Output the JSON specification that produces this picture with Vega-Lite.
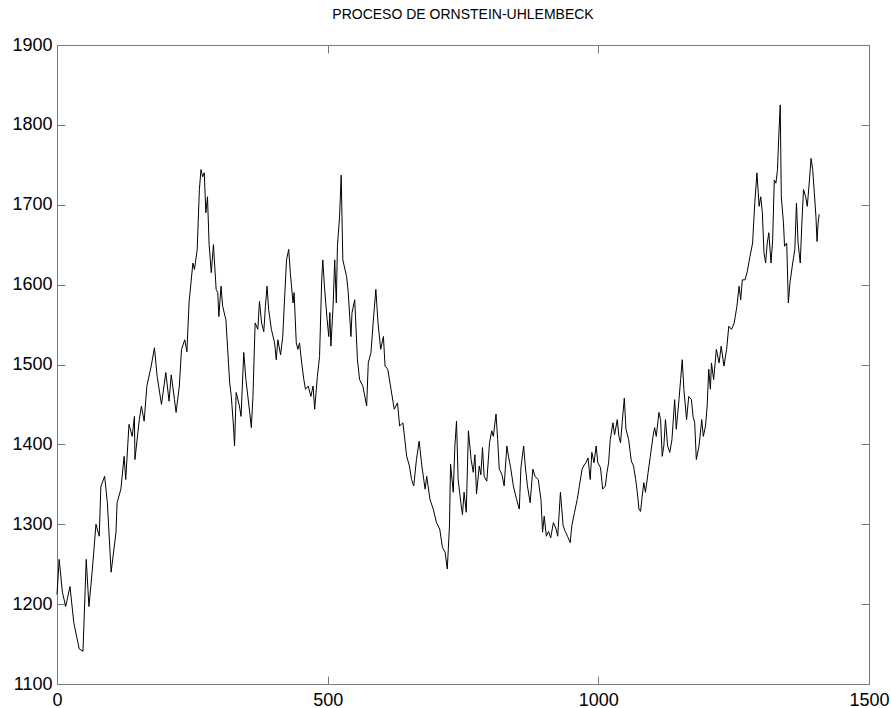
{
  "$schema": "https://vega.github.io/schema/vega-lite/v6.json",
  "autosize": "none",
  "width": 812,
  "height": 639,
  "padding": {"left": 57, "top": 45, "right": 22, "bottom": 24},
  "background": "white",
  "title": {"text": "PROCESO DE ORNSTEIN-UHLEMBECK", "font": "Liberation Sans", "fontSize": 14, "fontWeight": "normal", "color": "black", "offset": 14},
  "config": {"view": {"stroke": null}, "axis": {"grid": false, "labelFont": "Liberation Sans", "labelFontSize": 18, "labelColor": "black", "domainColor": "#7a7a7a", "tickColor": "#7a7a7a", "domainWidth": 1, "tickWidth": 1, "title": null, "format": "d"}},
  "data": {"values": [
    {"t":0,"v":1212},{"t":4,"v":1256},{"t":10,"v":1215},{"t":16,"v":1197},{"t":24,"v":1222},{"t":31,"v":1177},{"t":41,"v":1144},{"t":48,"v":1141},{"t":54,"v":1256},{"t":59,"v":1197},{"t":65,"v":1241},{"t":72,"v":1300},{"t":78,"v":1285},{"t":81,"v":1347},{"t":88,"v":1360},{"t":93,"v":1327},{"t":100,"v":1240},{"t":109,"v":1290},{"t":111,"v":1327},{"t":118,"v":1344},{"t":124,"v":1385},{"t":127,"v":1356},{"t":133,"v":1425},{"t":139,"v":1410},{"t":143,"v":1435},{"t":144,"v":1381},{"t":152,"v":1431},{"t":156,"v":1448},{"t":161,"v":1429},{"t":166,"v":1473},{"t":174,"v":1498},{"t":180,"v":1521},{"t":185,"v":1485},{"t":193,"v":1450},{"t":201,"v":1490},{"t":207,"v":1454},{"t":211,"v":1487},{"t":217,"v":1456},{"t":220,"v":1440},{"t":226,"v":1473},{"t":230,"v":1519},{"t":236,"v":1531},{"t":240,"v":1516},{"t":244,"v":1578},{"t":251,"v":1627},{"t":254,"v":1619},{"t":259,"v":1644},{"t":263,"v":1719},{"t":266,"v":1744},{"t":269,"v":1735},{"t":272,"v":1740},{"t":275,"v":1690},{"t":278,"v":1710},{"t":281,"v":1650},{"t":285,"v":1615},{"t":289,"v":1650},{"t":294,"v":1594},{"t":297,"v":1590},{"t":299,"v":1560},{"t":303,"v":1598},{"t":306,"v":1573},{"t":312,"v":1556},{"t":319,"v":1477},{"t":322,"v":1460},{"t":326,"v":1423},{"t":328,"v":1398},{"t":331,"v":1465},{"t":337,"v":1448},{"t":340,"v":1435},{"t":345,"v":1515},{"t":349,"v":1481},{"t":356,"v":1440},{"t":359,"v":1421},{"t":362,"v":1460},{"t":366,"v":1552},{"t":371,"v":1544},{"t":374,"v":1579},{"t":378,"v":1552},{"t":382,"v":1541},{"t":385,"v":1573},{"t":388,"v":1598},{"t":391,"v":1569},{"t":396,"v":1544},{"t":402,"v":1527},{"t":405,"v":1506},{"t":408,"v":1531},{"t":413,"v":1512},{"t":417,"v":1535},{"t":420,"v":1577},{"t":424,"v":1631},{"t":428,"v":1644},{"t":431,"v":1615},{"t":436,"v":1577},{"t":438,"v":1590},{"t":442,"v":1527},{"t":445,"v":1519},{"t":448,"v":1527},{"t":452,"v":1502},{"t":456,"v":1481},{"t":459,"v":1469},{"t":464,"v":1473},{"t":469,"v":1460},{"t":473,"v":1473},{"t":476,"v":1444},{"t":481,"v":1485},{"t":485,"v":1510},{"t":489,"v":1606},{"t":491,"v":1631},{"t":494,"v":1598},{"t":499,"v":1556},{"t":502,"v":1535},{"t":504,"v":1565},{"t":506,"v":1523},{"t":510,"v":1573},{"t":513,"v":1631},{"t":516,"v":1577},{"t":518,"v":1648},{"t":522,"v":1685},{"t":525,"v":1737},{"t":528,"v":1631},{"t":535,"v":1610},{"t":538,"v":1590},{"t":543,"v":1535},{"t":545,"v":1565},{"t":550,"v":1581},{"t":555,"v":1506},{"t":559,"v":1481},{"t":565,"v":1473},{"t":572,"v":1448},{"t":575,"v":1502},{"t":580,"v":1515},{"t":584,"v":1552},{"t":589,"v":1594},{"t":593,"v":1552},{"t":598,"v":1519},{"t":603,"v":1535},{"t":606,"v":1498},{"t":611,"v":1494},{"t":617,"v":1469},{"t":623,"v":1444},{"t":629,"v":1452},{"t":633,"v":1423},{"t":639,"v":1427},{"t":646,"v":1385},{"t":651,"v":1373},{"t":655,"v":1356},{"t":659,"v":1348},{"t":664,"v":1381},{"t":669,"v":1404},{"t":674,"v":1373},{"t":680,"v":1344},{"t":683,"v":1360},{"t":689,"v":1331},{"t":695,"v":1319},{"t":701,"v":1302},{"t":707,"v":1294},{"t":712,"v":1271},{"t":717,"v":1265},{"t":721,"v":1244},{"t":725,"v":1298},{"t":727,"v":1375},{"t":732,"v":1340},{"t":735,"v":1398},{"t":738,"v":1429},{"t":741,"v":1356},{"t":746,"v":1327},{"t":749,"v":1312},{"t":752,"v":1340},{"t":756,"v":1315},{"t":760,"v":1417},{"t":765,"v":1381},{"t":769,"v":1365},{"t":772,"v":1387},{"t":775,"v":1338},{"t":780,"v":1373},{"t":783,"v":1362},{"t":786,"v":1396},{"t":789,"v":1360},{"t":794,"v":1354},{"t":799,"v":1402},{"t":803,"v":1417},{"t":806,"v":1410},{"t":811,"v":1438},{"t":814,"v":1406},{"t":817,"v":1369},{"t":822,"v":1362},{"t":826,"v":1348},{"t":831,"v":1398},{"t":834,"v":1385},{"t":838,"v":1371},{"t":843,"v":1348},{"t":849,"v":1331},{"t":854,"v":1319},{"t":857,"v":1371},{"t":862,"v":1398},{"t":865,"v":1373},{"t":869,"v":1348},{"t":874,"v":1327},{"t":879,"v":1369},{"t":883,"v":1360},{"t":889,"v":1356},{"t":894,"v":1331},{"t":897,"v":1290},{"t":900,"v":1310},{"t":904,"v":1285},{"t":908,"v":1291},{"t":912,"v":1283},{"t":917,"v":1302},{"t":922,"v":1294},{"t":925,"v":1285},{"t":930,"v":1340},{"t":935,"v":1298},{"t":939,"v":1291},{"t":943,"v":1285},{"t":948,"v":1277},{"t":951,"v":1298},{"t":956,"v":1315},{"t":961,"v":1331},{"t":965,"v":1348},{"t":970,"v":1369},{"t":973,"v":1373},{"t":977,"v":1377},{"t":981,"v":1383},{"t":985,"v":1356},{"t":988,"v":1390},{"t":992,"v":1377},{"t":996,"v":1398},{"t":999,"v":1377},{"t":1004,"v":1371},{"t":1008,"v":1344},{"t":1013,"v":1348},{"t":1016,"v":1365},{"t":1019,"v":1377},{"t":1022,"v":1406},{"t":1027,"v":1427},{"t":1030,"v":1412},{"t":1035,"v":1431},{"t":1038,"v":1410},{"t":1041,"v":1402},{"t":1044,"v":1427},{"t":1048,"v":1458},{"t":1051,"v":1419},{"t":1056,"v":1406},{"t":1061,"v":1379},{"t":1065,"v":1373},{"t":1069,"v":1356},{"t":1072,"v":1340},{"t":1075,"v":1319},{"t":1078,"v":1316},{"t":1081,"v":1335},{"t":1084,"v":1352},{"t":1087,"v":1340},{"t":1092,"v":1365},{"t":1096,"v":1385},{"t":1101,"v":1410},{"t":1104,"v":1421},{"t":1107,"v":1410},{"t":1112,"v":1440},{"t":1115,"v":1431},{"t":1118,"v":1385},{"t":1121,"v":1398},{"t":1124,"v":1431},{"t":1128,"v":1398},{"t":1132,"v":1390},{"t":1136,"v":1406},{"t":1141,"v":1456},{"t":1144,"v":1419},{"t":1149,"v":1456},{"t":1152,"v":1481},{"t":1155,"v":1506},{"t":1158,"v":1469},{"t":1163,"v":1431},{"t":1167,"v":1460},{"t":1172,"v":1456},{"t":1175,"v":1435},{"t":1178,"v":1427},{"t":1181,"v":1381},{"t":1186,"v":1398},{"t":1191,"v":1431},{"t":1194,"v":1410},{"t":1198,"v":1423},{"t":1201,"v":1448},{"t":1204,"v":1494},{"t":1207,"v":1469},{"t":1209,"v":1502},{"t":1213,"v":1481},{"t":1218,"v":1519},{"t":1223,"v":1502},{"t":1227,"v":1523},{"t":1232,"v":1498},{"t":1237,"v":1519},{"t":1241,"v":1548},{"t":1246,"v":1544},{"t":1251,"v":1552},{"t":1256,"v":1573},{"t":1260,"v":1598},{"t":1263,"v":1581},{"t":1266,"v":1606},{"t":1271,"v":1606},{"t":1275,"v":1616},{"t":1280,"v":1635},{"t":1285,"v":1652},{"t":1286,"v":1665},{"t":1289,"v":1702},{"t":1293,"v":1740},{"t":1295,"v":1719},{"t":1297,"v":1698},{"t":1300,"v":1710},{"t":1303,"v":1690},{"t":1306,"v":1640},{"t":1309,"v":1627},{"t":1312,"v":1652},{"t":1315,"v":1665},{"t":1319,"v":1627},{"t":1322,"v":1656},{"t":1325,"v":1731},{"t":1328,"v":1727},{"t":1331,"v":1744},{"t":1333,"v":1781},{"t":1336,"v":1825},{"t":1338,"v":1710},{"t":1342,"v":1677},{"t":1344,"v":1648},{"t":1348,"v":1652},{"t":1351,"v":1577},{"t":1354,"v":1602},{"t":1359,"v":1627},{"t":1363,"v":1644},{"t":1366,"v":1702},{"t":1369,"v":1652},{"t":1373,"v":1627},{"t":1376,"v":1677},{"t":1379,"v":1719},{"t":1383,"v":1710},{"t":1386,"v":1698},{"t":1390,"v":1731},{"t":1393,"v":1758},{"t":1396,"v":1744},{"t":1399,"v":1715},{"t":1402,"v":1685},{"t":1404,"v":1654},{"t":1406,"v":1677},{"t":1408,"v":1688}
  ]},
  "layer": [
    {
      "mark": {"type": "line", "color": "black", "strokeWidth": 1, "strokeOpacity": 0},
      "encoding": {
        "x": {"field": "t", "type": "quantitative", "scale": {"domain": [0, 1500], "nice": false, "zero": false}, "axis": {"orient": "top", "values": [0, 500, 1000, 1500], "labels": false, "tickSize": -8}},
        "y": {"field": "v", "type": "quantitative", "scale": {"domain": [1100, 1900], "nice": false, "zero": false}, "axis": {"orient": "right", "values": [1100, 1200, 1300, 1400, 1500, 1600, 1700, 1800, 1900], "labels": false, "tickSize": -8}}
      }
    },
    {
      "mark": {"type": "line", "color": "black", "strokeWidth": 1},
      "encoding": {
        "x": {"field": "t", "type": "quantitative", "scale": {"domain": [0, 1500], "nice": false, "zero": false}, "axis": {"orient": "bottom", "values": [0, 500, 1000, 1500], "tickSize": -8, "labelPadding": 15, "labelFlush": false}},
        "y": {"field": "v", "type": "quantitative", "scale": {"domain": [1100, 1900], "nice": false, "zero": false}, "axis": {"orient": "left", "values": [1100, 1200, 1300, 1400, 1500, 1600, 1700, 1800, 1900], "tickSize": -8, "labelPadding": 13, "labelFlush": false}}
      }
    }
  ],
  "resolve": {"axis": {"x": "independent", "y": "independent"}}
}
